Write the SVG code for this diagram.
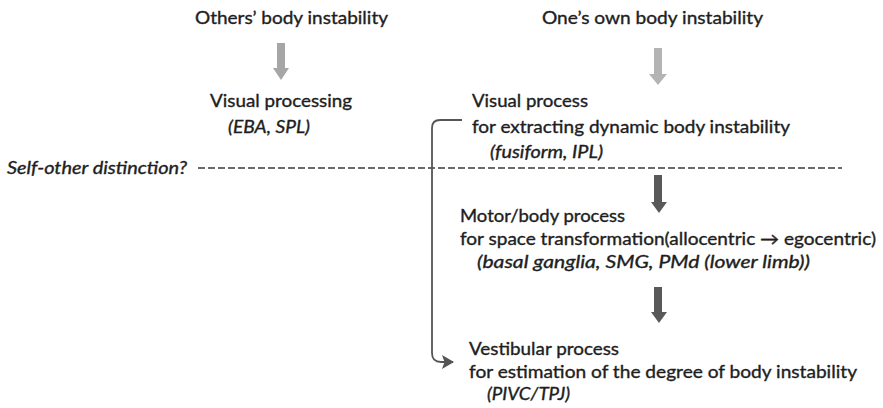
<svg xmlns="http://www.w3.org/2000/svg" width="883" height="408" viewBox="0 0 883 408">
  <style>
    text { font-family: Lato, "Open Sans", "Liberation Sans", sans-serif; font-size: 17px; fill: #1e1e1e; stroke: #1e1e1e; stroke-width: 0.35; }
    .it { font-style: italic; }
    .dash { stroke: #3a3a3a; stroke-width: 1.7; stroke-dasharray: 7 3; fill: none; }
    .bracket { stroke: #555555; stroke-width: 1.8; fill: none; }
    .light { fill: #a6a6a6; }
    .lighter { fill: #b4b4b4; }
    .dark { fill: #595959; }
  </style>
  <defs>
    <marker id="tip" viewBox="0 0 12 14" refX="11" refY="7" markerWidth="12" markerHeight="14" markerUnits="userSpaceOnUse" orient="auto">
      <path d="M0,0 L12,7 L0,14 L2.5,7 Z" fill="#555555"/>
    </marker>
  </defs>
  <rect width="883" height="408" fill="#ffffff"/>

  <!-- source: others -->
  <g id="others-instability">
    <text x="195" y="24" textLength="193" lengthAdjust="spacingAndGlyphs">Others’ body instability</text>
  </g>
  <g id="visual-processing">
    <text x="210" y="107" textLength="142" lengthAdjust="spacingAndGlyphs">Visual processing</text>
    <text class="it" x="228" y="133" textLength="82" lengthAdjust="spacingAndGlyphs">(EBA, SPL)</text>
  </g>

  <!-- source: self -->
  <g id="own-instability">
    <text x="542" y="24" textLength="221" lengthAdjust="spacingAndGlyphs">One’s own body instability</text>
  </g>
  <g id="visual-process">
    <text x="472" y="107" textLength="116" lengthAdjust="spacingAndGlyphs">Visual process</text>
    <text x="472" y="133" textLength="318" lengthAdjust="spacingAndGlyphs">for extracting dynamic body instability</text>
    <text class="it" x="490" y="158" textLength="113" lengthAdjust="spacingAndGlyphs">(fusiform, IPL)</text>
  </g>
  <g id="motor-process">
    <text x="460" y="222" textLength="165" lengthAdjust="spacingAndGlyphs">Motor/body process</text>
    <text x="460" y="245" textLength="416" lengthAdjust="spacingAndGlyphs">for space transformation(allocentric → egocentric)</text>
    <text class="it" x="477" y="268" textLength="333" lengthAdjust="spacingAndGlyphs">(basal ganglia, SMG, PMd (lower limb))</text>
  </g>
  <g id="vestibular-process">
    <text x="469" y="355" textLength="150" lengthAdjust="spacingAndGlyphs">Vestibular process</text>
    <text x="469" y="378" textLength="388" lengthAdjust="spacingAndGlyphs">for estimation of the degree of body instability</text>
    <text class="it" x="487" y="400" textLength="83" lengthAdjust="spacingAndGlyphs">(PIVC/TPJ)</text>
  </g>

  <!-- divider -->
  <g id="self-other-divider">
    <text class="it" x="7" y="174" textLength="180" lengthAdjust="spacingAndGlyphs">Self-other distinction?</text>
    <line class="dash" x1="198" y1="168" x2="842" y2="168"/>
  </g>

  <g id="connectors">
    <!-- block arrows -->
    <path class="light" d="M277,43 H285 V68 H289 L281,80 L273,68 H277 Z"/>
    <path class="lighter" d="M654,48 H662 V74 H667 L658,85 L649,74 H654 Z"/>
    <path class="dark" d="M654,175 H662 V202 H667 L659,213 L651,202 H654 Z"/>
    <path class="dark" d="M654,287 H662 V312 H667 L659,323 L651,312 H654 Z"/>
    <!-- bypass from visual process to vestibular process -->
    <path class="bracket" d="M462,120 H440 Q432,120 432,128 V353 Q432,362 441,362 H453" marker-end="url(#tip)"/>
  </g>
</svg>
